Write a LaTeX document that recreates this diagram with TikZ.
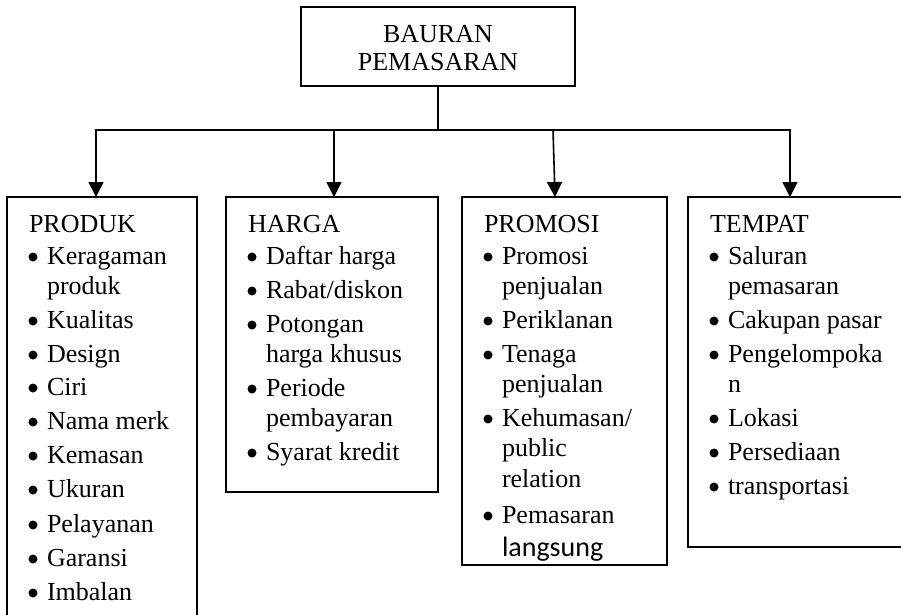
\documentclass[tikz,border=0pt]{standalone}
\usepackage{fontspec}
\setmainfont{Liberation Serif}
\newfontfamily\calib{Carlito}
\usetikzlibrary{arrows.meta}
\tikzset{
  box/.style={draw, line width=1.6pt, inner sep=0pt, outer sep=0pt, anchor=north west},
  txt/.style={anchor=base west, inner sep=0pt, outer sep=0pt, font=\fontsize{26}{30}\selectfont},
  ctxt/.style={anchor=base, inner sep=0pt, outer sep=0pt, font=\fontsize{26}{30}\selectfont},
  ln/.style={line width=1.6pt},
  arr/.style={line width=1.6pt, -{Triangle[width=15pt,length=15pt]}},
}
% bullet item: name, text-x, baseline-y, text
\newcommand\itm[4]{%
  \fill (#2-14,#3-7) circle (4.5pt);
  \node[txt] (#1) at (#2,#3) {#4};}
\newcommand\cont[4]{\node[txt] (#1) at (#2,#3) {#4};}
\begin{document}
\begin{tikzpicture}[x=1pt,y=-1pt]
\clip (0,0) rectangle (901,614);
\fill[white] (0,0) rectangle (901,614);
% top box
\node[box, minimum width=274pt, minimum height=79pt] (top) at (301,7) {};
\node[ctxt] (t1) at (438,42) {BAURAN};
\node[ctxt] (t2) at (438,70) {PEMASARAN};
% category boxes
\node[box, minimum width=190pt, minimum height=440pt] (produk) at (7,197) {};
\node[box, minimum width=212pt, minimum height=295pt] (harga) at (226,197) {};
\node[box, minimum width=205pt, minimum height=368pt] (promosi) at (462,197) {};
\node[box, minimum width=240pt, minimum height=350pt] (tempat) at (688,197) {};
% connectors
\coordinate (bus) at (438,130);
\coordinate (j1) at (96,130);
\coordinate (j2) at (334,130);
\coordinate (j3) at (553,130);
\coordinate (j4) at (790,130);
\coordinate (e3) at (555,130);
\draw[ln] (top.south -| bus) -- (bus);
\draw[ln, line cap=rect] (j1) -- (j4);
\draw[arr] (j1) -- (j1 |- produk.north);
\draw[arr] (j2) -- (j2 |- harga.north);
\draw[arr] (j3) -- (e3 |- promosi.north);
\draw[arr] (j4) -- (j4 |- tempat.north);
% PRODUK
\node[txt] (pt) at (29,232) {PRODUK};
\itm{p1}{47}{264}{Keragaman}
\cont{p1b}{47}{294}{produk}
\itm{p2}{47}{328}{Kualitas}
\itm{p3}{47}{362}{Design}
\itm{p4}{47}{395}{Ciri}
\itm{p5}{47}{429}{Nama merk}
\itm{p6}{47}{463}{Kemasan}
\itm{p7}{47}{497}{Ukuran}
\itm{p8}{47}{532}{Pelayanan}
\itm{p9}{47}{566}{Garansi}
\itm{p10}{47}{600}{Imbalan}
% HARGA
\node[txt] (ht) at (248,232) {HARGA};
\itm{h1}{266}{264}{Daftar harga}
\itm{h2}{266}{298}{Rabat/diskon}
\itm{h3}{266}{332}{Potongan}
\cont{h3b}{266}{362}{harga khusus}
\itm{h4}{266}{396}{Periode}
\cont{h4b}{266}{426}{pembayaran}
\itm{h5}{266}{460}{Syarat kredit}
% PROMOSI
\node[txt] (rt) at (484,232) {PROMOSI};
\itm{r1}{502}{264}{Promosi}
\cont{r1b}{502}{294}{penjualan}
\itm{r2}{502}{328}{Periklanan}
\itm{r3}{502}{362}{Tenaga}
\cont{r3b}{502}{392}{penjualan}
\itm{r4}{502}{426}{Kehumasan/}
\cont{r4b}{502}{456}{public}
\cont{r4c}{502}{487}{relation}
\itm{r5}{502}{523}{Pemasaran}
\node[txt, font=\calib\fontsize{28}{30}\selectfont] (r5b) at (502,556) {langsung};
% TEMPAT
\node[txt] (st) at (710,232) {TEMPAT};
\itm{s1}{728}{264}{Saluran}
\cont{s1b}{728}{294}{pemasaran}
\itm{s2}{728}{328}{Cakupan pasar}
\itm{s3}{728}{362}{Pengelompoka}
\cont{s3b}{728}{392}{n}
\itm{s4}{728}{426}{Lokasi}
\itm{s5}{728}{460}{Persediaan}
\itm{s6}{728}{494}{transportasi}
\end{tikzpicture}
\end{document}
